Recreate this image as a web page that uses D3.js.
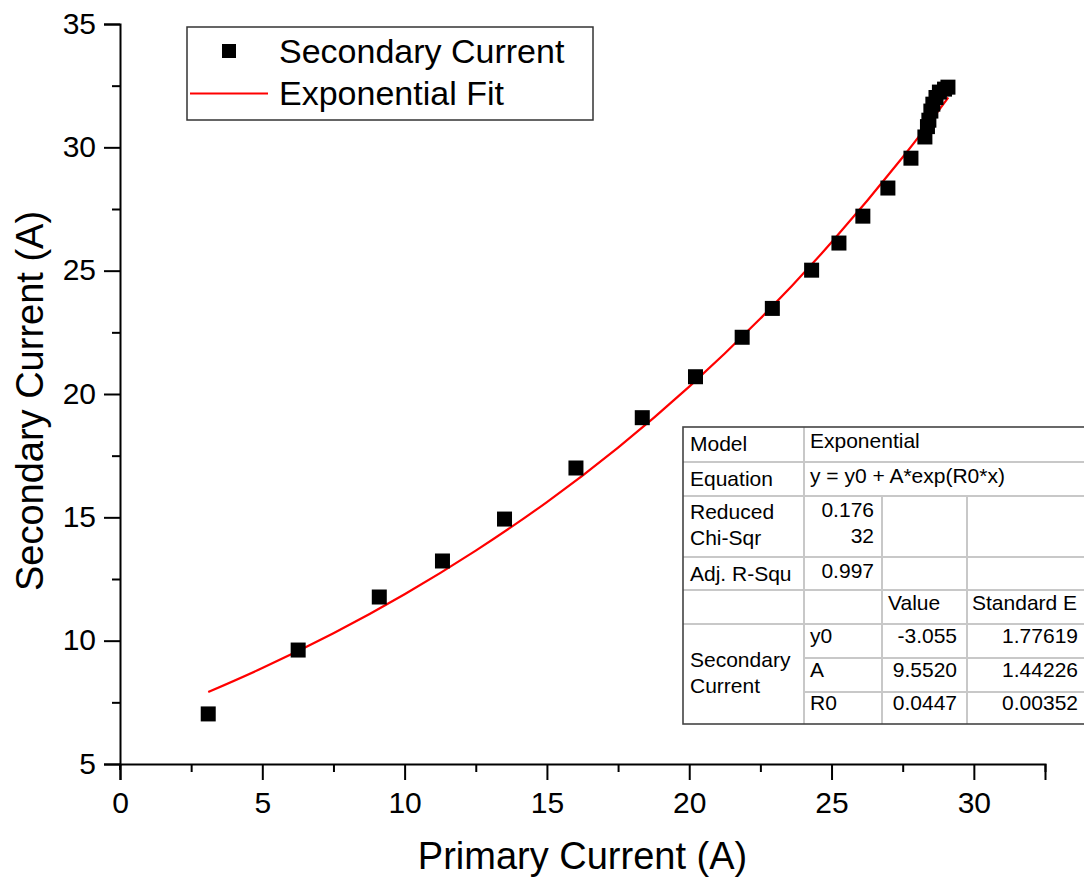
<!DOCTYPE html>
<html>
<head>
<meta charset="utf-8">
<script src="https://cdn.jsdelivr.net/npm/d3@7"></script>
<style>
html,body{margin:0;padding:0;background:#fff;}
svg{display:block;font-family:"Liberation Sans",Arial,sans-serif;}
</style>
</head>
<body>
<svg id="chart" width="1084" height="881"></svg>
<script>
// ---- data ----
const primaryCurrent = [3.10, 6.26, 9.11, 11.33, 13.51, 16.02, 18.35, 20.22, 21.86, 22.92, 24.30, 25.26, 26.10, 26.98, 27.79, 28.28, 28.37, 28.42, 28.49, 28.56, 28.67, 28.79, 28.97, 29.09];
const secondaryCurrent = [7.03, 9.62, 11.77, 13.23, 14.93, 17.00, 19.04, 20.70, 22.30, 23.47, 25.02, 26.12, 27.21, 28.35, 29.56, 30.42, 30.84, 31.10, 31.47, 31.75, 32.02, 32.24, 32.36, 32.44];
const fitX = [3.1, 5, 7.5, 10, 12.5, 15, 17.5, 20, 22.5, 25, 27.5, 29.1];
const fitY = [7.92, 8.89, 10.30, 11.88, 13.65, 15.62, 17.83, 20.30, 23.06, 26.15, 29.60, 32.02];
const xTicks = [0, 5, 10, 15, 20, 25, 30];
const yTicks = [5, 10, 15, 20, 25, 30, 35];
const legendLabels = ["Secondary Current", "Exponential Fit"];
const tableRows = [
  ["Model", "Exponential"],
  ["Equation", "y = y0 + A*exp(R0*x)"],
  ["Reduced|Chi-Sqr", "0.176|32"],
  ["Adj. R-Squ", "0.997"],
  ["", "", "Value", "Standard E"],
  ["Secondary|Current", "y0", "-3.055", "1.77619"],
  ["", "A", "9.5520", "1.44226"],
  ["", "R0", "0.0447", "0.00352"]
];

const svg = d3.select("#chart");
const L = 120, R = 1045, T = 24, B = 764;
const x = d3.scaleLinear().domain([0, 32.5]).range([L, R]);
const y = d3.scaleLinear().domain([5, 35]).range([B, T]);

// axes
const xAxis = d3.axisBottom(x).tickValues(d3.range(0, 32.6, 2.5)).tickSizeOuter(0)
  .tickSize(16).tickFormat(d => xTicks.includes(d) ? d : "");
const gx = svg.append("g").attr("transform", `translate(0,${B})`).call(xAxis);
gx.selectAll(".tick line").attr("y2", d => xTicks.includes(d) ? 16 : 8);
gx.selectAll(".tick text").attr("y", 28).attr("font-size", 30).attr("fill", "#000")
  .style("font-family", '"Liberation Sans",Arial,sans-serif');

const yAxis = d3.axisLeft(y).tickValues(d3.range(5, 35.1, 2.5)).tickSizeOuter(0)
  .tickSize(16).tickFormat(d => yTicks.includes(d) ? d : "");
const gy = svg.append("g").attr("transform", `translate(${L},0)`).call(yAxis);
gy.selectAll(".tick line").attr("x2", d => yTicks.includes(d) ? -16 : -8);
gy.selectAll(".tick text").attr("x", -24).attr("dy", "0.30em").attr("font-size", 30).attr("fill", "#000")
  .style("font-family", '"Liberation Sans",Arial,sans-serif');

[gx, gy].forEach(g => {
  g.select(".domain").attr("stroke", "#000").attr("stroke-width", 2);
  g.selectAll(".tick line").attr("stroke", "#000").attr("stroke-width", 2);
});
svg.append("line").attr("x1", L).attr("x2", L).attr("y1", B).attr("y2", B + 6).attr("stroke", "#000").attr("stroke-width", 2);

// axis titles
svg.append("text").attr("x", (L + R) / 2).attr("y", 869).attr("text-anchor", "middle")
  .attr("font-size", 38).text("Primary Current (A)");
svg.append("text").attr("transform", "translate(43,401) rotate(-90)").attr("text-anchor", "middle")
  .attr("font-size", 38).text("Secondary Current (A)");

// fit line
const fitData = fitX.map((d, i) => [d, fitY[i]]);
svg.append("path").datum(fitData)
  .attr("d", d3.line().x(d => x(d[0])).y(d => y(d[1])).curve(d3.curveNatural))
  .attr("fill", "none").attr("stroke", "#ff0000").attr("stroke-width", 2.2);

// points
const S = 15;
svg.append("g").selectAll("rect").data(primaryCurrent.map((d, i) => [d, secondaryCurrent[i]]))
  .join("rect")
  .attr("x", d => x(d[0]) - S / 2).attr("y", d => y(d[1]) - S / 2)
  .attr("width", S).attr("height", S).attr("fill", "#000");

// legend
const lg = svg.append("g");
lg.append("rect").attr("x", 187).attr("y", 27).attr("width", 406).attr("height", 93)
  .attr("fill", "#fff").attr("stroke", "#333").attr("stroke-width", 1.5);
lg.append("rect").attr("x", 229 - 7).attr("y", 51 - 7).attr("width", 14).attr("height", 14).attr("fill", "#000");
lg.append("line").attr("x1", 190).attr("x2", 268).attr("y1", 93.5).attr("y2", 93.5)
  .attr("stroke", "#ff0000").attr("stroke-width", 2);
lg.append("text").attr("x", 279).attr("y", 63).attr("font-size", 34).text(legendLabels[0]);
lg.append("text").attr("x", 279).attr("y", 105).attr("font-size", 34).text(legendLabels[1]);

// results table
const colX = [683, 804, 882, 967, 1110];
const rowY = [427, 462, 496, 557, 590, 624, 658, 692, 724];
const tg = svg.append("g");
tg.append("rect").attr("x", colX[0]).attr("y", rowY[0]).attr("width", colX[4] - colX[0]).attr("height", rowY[8] - rowY[0])
  .attr("fill", "#fff");
const inner = "#c8c8c8";
rowY.slice(1, 8).forEach((yy, i) => {
  const x0 = (i >= 5) ? colX[1] : colX[0];
  tg.append("line").attr("x1", x0).attr("x2", colX[4]).attr("y1", yy).attr("y2", yy).attr("stroke", inner).attr("stroke-width", 2);
});
tg.append("line").attr("x1", colX[1]).attr("x2", colX[1]).attr("y1", rowY[0]).attr("y2", rowY[8]).attr("stroke", inner).attr("stroke-width", 2);
[colX[2], colX[3]].forEach(xx => {
  tg.append("line").attr("x1", xx).attr("x2", xx).attr("y1", rowY[2]).attr("y2", rowY[8]).attr("stroke", inner).attr("stroke-width", 2);
});
tg.append("rect").attr("x", colX[0]).attr("y", rowY[0]).attr("width", colX[4] - colX[0]).attr("height", rowY[8] - rowY[0])
  .attr("fill", "none").attr("stroke", "#444").attr("stroke-width", 1.6);

const fs = 21;
function cellText(txt, xx, yy, anchor) {
  const lines = txt.split("|");
  lines.forEach((ln, k) => {
    tg.append("text").attr("x", xx).attr("y", yy + k * 26).attr("font-size", fs)
      .attr("text-anchor", anchor).attr("fill", "#000").text(ln);
  });
}
cellText(tableRows[0][0], 690, 451, "start");
cellText(tableRows[0][1], 810, 448, "start");
cellText(tableRows[1][0], 690, 486, "start");
cellText(tableRows[1][1], 810, 483, "start");
cellText(tableRows[2][0], 690, 519, "start");
cellText(tableRows[2][1], 874, 517, "end");
cellText(tableRows[3][0], 690, 581, "start");
cellText(tableRows[3][1], 874, 578, "end");
cellText(tableRows[4][2], 888, 610, "start");
cellText(tableRows[4][3], 972, 610, "start");
cellText(tableRows[5][0], 690, 667, "start");
const prow = [5, 6, 7];
const pBase = [643, 677, 710];
prow.forEach((r, i) => {
  cellText(tableRows[r][1], 810, pBase[i], "start");
  cellText(tableRows[r][2], 957, pBase[i], "end");
  cellText(tableRows[r][3], 1078, pBase[i], "end");
});
</script>
</body>
</html>
